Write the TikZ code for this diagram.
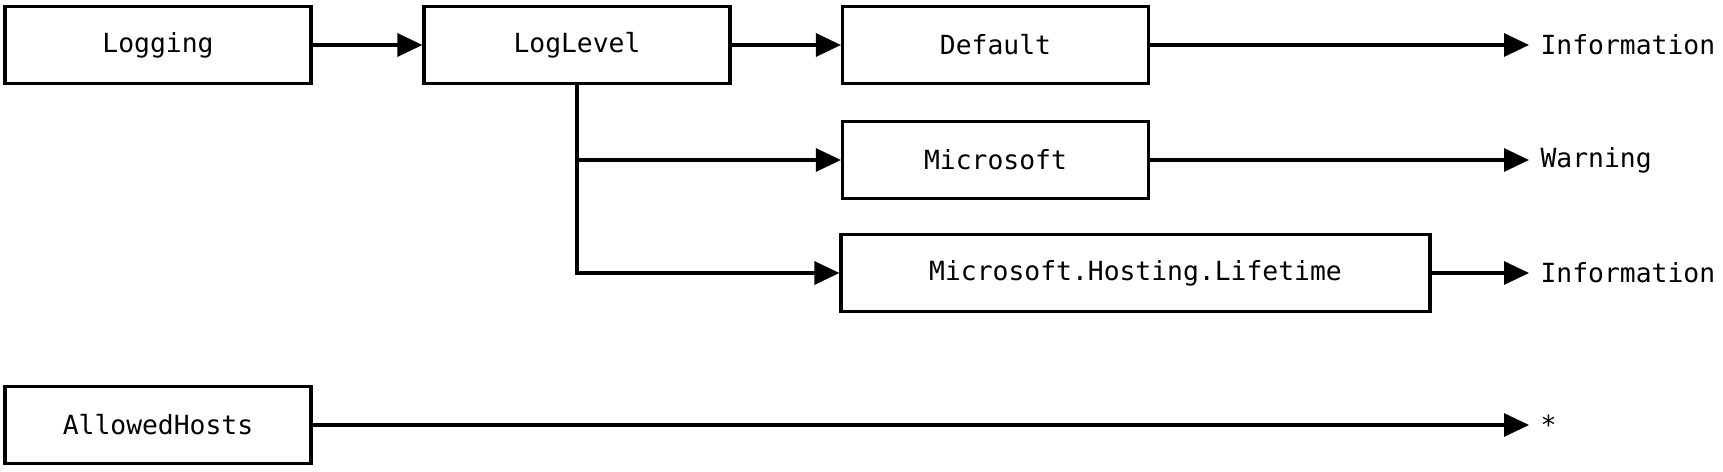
\documentclass[tikz,border=0pt]{standalone}
\usepackage{fontspec}
\setmonofont{DejaVu Sans Mono}
\usetikzlibrary{arrows.meta}

\begin{document}
\begin{tikzpicture}[
          line width=1.8pt,
          font=\ttfamily\fontsize{15}{18}\selectfont,
          box/.style={draw, minimum width=6.12cm, minimum height=1.54cm, align=center},
          value/.style={anchor=west, inner xsep=0.2cm, inner ysep=0pt},
          arrow/.style={-{Triangle[length=0.5cm, width=0.46cm]}}
        ]
          \useasboundingbox (0,0) rectangle (34.46,-9.44);

          % Keys
          \node[box] (logging) at (3.16,-0.90) {Logging};
          \node[box] (loglevel) at (11.54,-0.90) {LogLevel};
          \node[box] (default) at (19.91,-0.90) {Default};
          \node[box] (microsoft) at (19.91,-3.20) {Microsoft};
          \node[box, minimum width=11.78cm] (lifetime) at (22.71,-5.46) {Microsoft.Hosting.Lifetime};
          \node[box] (allowedhosts) at (3.16,-8.50) {AllowedHosts};

          % Values
          \node[value] (defaultval) at (30.58,-0.90) {Information};
          \node[value] (microsoftval) at (30.58,-3.20) {Warning};
          \node[value] (lifetimeval) at (30.58,-5.46) {Information};
          \node[value] (hostsval) at (30.58,-8.50) {*};

          % Connections
          \draw[arrow] (logging) -- (loglevel);
          \draw[arrow] (loglevel) -- (default);
          \draw[arrow] (loglevel.south) |- (microsoft.west);
          \draw[arrow] (loglevel.south) |- (lifetime.west);
          \draw[arrow] (default) -- (defaultval.west);
          \draw[arrow] (microsoft) -- (microsoftval.west);
          \draw[arrow] (lifetime) -- (lifetimeval.west);
          \draw[arrow] (allowedhosts) -- (allowedhosts -| hostsval.west);
        \end{tikzpicture}
\end{document}
